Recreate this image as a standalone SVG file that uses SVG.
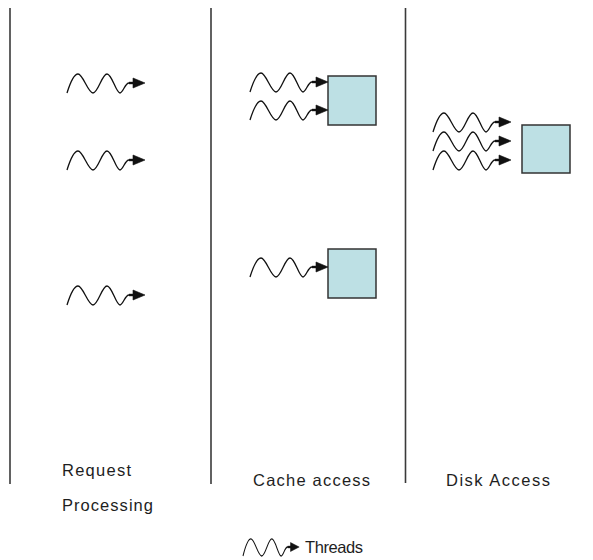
<svg xmlns="http://www.w3.org/2000/svg" xmlns:xlink="http://www.w3.org/1999/xlink" width="593" height="560" viewBox="0 0 593 560">
  <style>
    .sep { stroke: #3a3a3a; stroke-width: 1.6; }
    .box { fill: #bde0e4; stroke: #333; stroke-width: 1.5; }
    .wave { fill: none; stroke: #111; stroke-width: 1.3; stroke-linejoin: round; }
    .head { fill: #111; stroke: #111; stroke-width: 0.6; stroke-linejoin: round; }
    .label { font-family: "Liberation Sans", Arial, sans-serif; font-size: 16.5px; fill: #1e1e1e; }
  </style>
  <defs>
    <!-- one thread symbol: a squiggle ending in a filled arrowhead; origin = start x, arrow line y -->
    <g id="thread">
      <path class="wave" d="M0,10 C2.5,2 7,-9 11,-9 C16,-9 21,10 26,10 C31,10 35,-9 40,-9 C45,-9 49,10 53,10 C56,10 58,0 62,0 L69,0"/>
      <polygon class="head" points="66,-5 78,0 66,5"/>
      <line class="wave" x1="62" y1="0" x2="68" y2="0" style="stroke-width:2.4"/>
    </g>
  </defs>

  <rect width="593" height="560" fill="#fff"/>

  <!-- column separators -->
  <g id="separators">
    <line class="sep" x1="10" y1="8" x2="10" y2="484"/>
    <line class="sep" x1="211" y1="8" x2="211" y2="484"/>
    <line class="sep" x1="405.5" y1="8" x2="405.5" y2="483"/>
  </g>

  <!-- resources -->
  <g id="cache-box-1"><rect class="box" x="328" y="76" width="48" height="49"/></g>
  <g id="cache-box-2"><rect class="box" x="328" y="249" width="48" height="49"/></g>
  <g id="disk-box"><rect class="box" x="522" y="125" width="48" height="48"/></g>

  <!-- threads -->
  <g id="connectors">
    <use xlink:href="#thread" x="67" y="83"/>
    <use xlink:href="#thread" x="67" y="160"/>
    <use xlink:href="#thread" x="67" y="295"/>
    <use xlink:href="#thread" x="250" y="82"/>
    <use xlink:href="#thread" x="250" y="110"/>
    <use xlink:href="#thread" x="250" y="267"/>
    <use xlink:href="#thread" x="433" y="122"/>
    <use xlink:href="#thread" x="433" y="141"/>
    <use xlink:href="#thread" x="433" y="160"/>
  </g>

  <!-- column titles -->
  <g id="labels">
    <text class="label" x="62" y="476" textLength="69" lengthAdjust="spacing">Request</text>
    <text class="label" x="62" y="511" textLength="91" lengthAdjust="spacing">Processing</text>
    <text class="label" x="253" y="486" textLength="117" lengthAdjust="spacing">Cache access</text>
    <text class="label" x="446" y="486" textLength="104" lengthAdjust="spacing">Disk Access</text>
  </g>

  <!-- legend -->
  <g id="legend">
    <g transform="translate(243,547) scale(0.72,0.9)">
      <path class="wave" style="stroke-width:1.4" d="M0,10 C2.5,2 7,-9 11,-9 C16,-9 21,10 26,10 C31,10 35,-9 40,-9 C45,-9 49,10 53,10 C56,10 58,0 62,0 L69,0"/>
      <polygon class="head" points="66,-5 78,0 66,5"/>
      <line class="wave" x1="62" y1="0" x2="68" y2="0" style="stroke-width:2.6"/>
    </g>
    <text class="label" x="305" y="553" textLength="58" lengthAdjust="spacing">Threads</text>
  </g>
</svg>
